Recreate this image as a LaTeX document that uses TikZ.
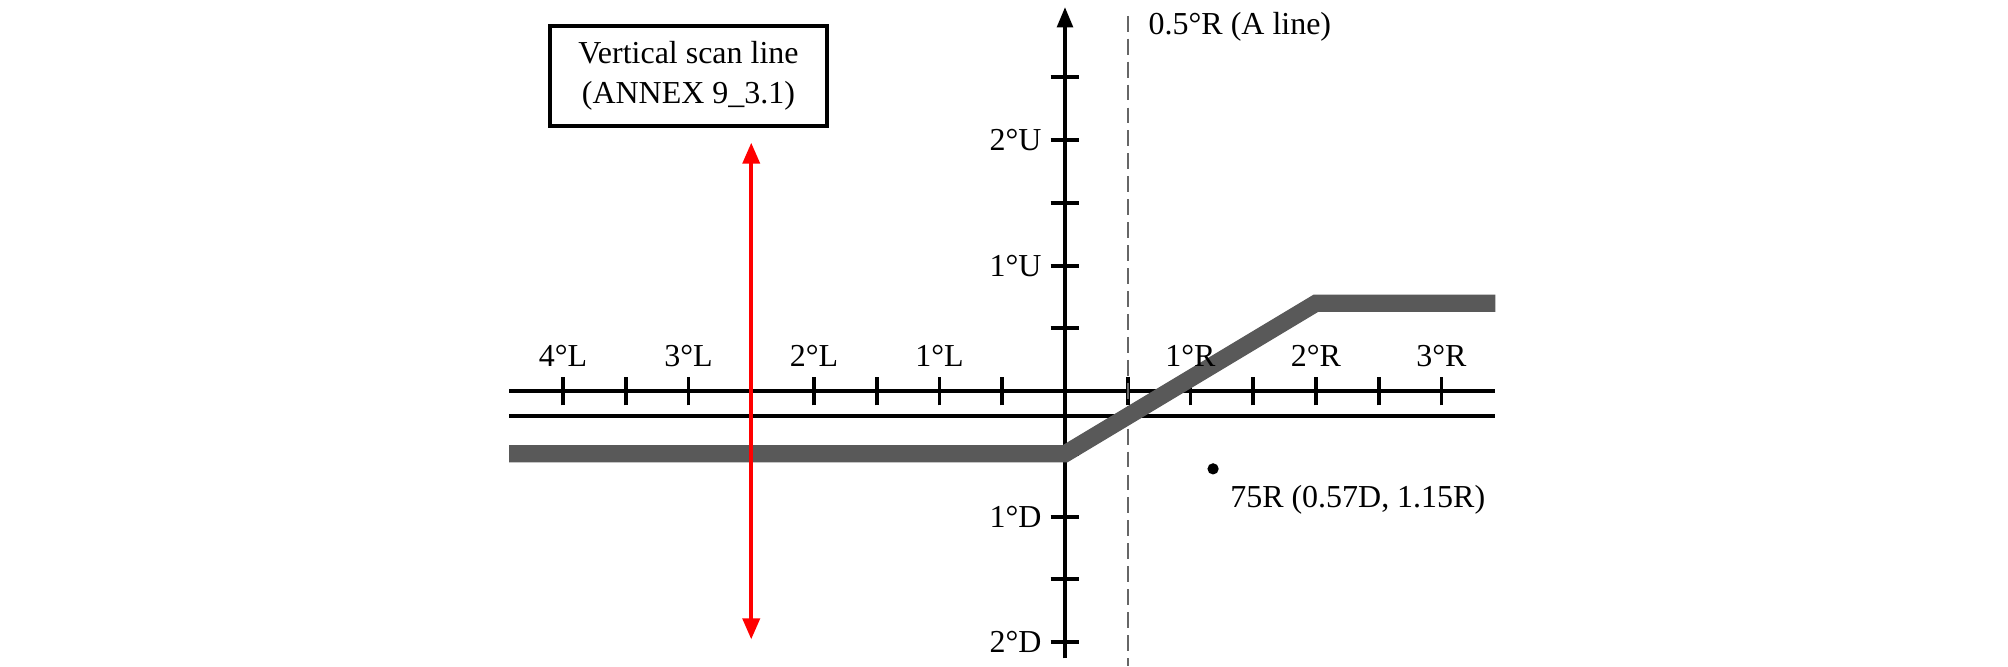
\documentclass[tikz,border=0pt]{standalone}
\usepackage{fontspec}
\setmainfont{Liberation Serif}
\usetikzlibrary{arrows.meta}
\definecolor{bandgray}{HTML}{595959}
\definecolor{dashgray}{HTML}{666666}
\definecolor{scanred}{HTML}{FF0000}
\begin{document}
\begin{tikzpicture}[
  font=\fontsize{7.25}{9}\selectfont,
  axisline/.style={line width=0.9pt, draw=black},
  tickline/.style={line width=0.9pt, draw=black},
  bandline/.style={line width=3.9pt, draw=bandgray, line join=miter},
  aline/.style={line width=0.55pt, draw=dashgray, dash pattern=on 3.6pt off 1.6pt},
  scanarrow/.style={line width=1pt, draw=scanred,
    {Triangle[length=4.8pt,width=3.8pt]}-{Triangle[length=4.8pt,width=3.8pt]}},
  lab/.style={inner sep=0pt},
  infobox/.style={draw, line width=0.9pt, minimum width=2.21cm, minimum height=0.8cm, align=center, inner sep=1pt}
]
\useasboundingbox (-8.486,-2.191) rectangle (7.514,3.116);

% horizontal lines
\coordinate (hL) at (-4.43,0);
\coordinate (hR) at (3.43,0);
\coordinate (gL) at (-4.43,-0.2);
\coordinate (gR) at (3.43,-0.2);
\draw[axisline] (hL) -- (hR);
\draw[axisline] (gL) -- (gR);
\foreach \x in {-4,-3.5,...,-0.5,0.5,1,...,3}
  \draw[tickline] (\x,-0.115) -- (\x,0.115);

% vertical axis
\coordinate (vB) at (0,-2.13);
\coordinate (vT) at (0,3.06);
\draw[axisline,-{Triangle[length=4.6pt,width=3.5pt]}] (vB) -- (vT);
\foreach \y in {-2,-1.5,...,-0.5,0.5,1,...,2.5}
  \draw[tickline] (-0.115,\y) -- (0.115,\y);

% A line
\coordinate (aT) at (0.5,2.99);
\coordinate (aB) at (0.5,-2.191);
\draw[aline] (aT) -- (aB);

% cut-off line
\coordinate (c1) at (-4.43,-0.5);
\coordinate (c2) at (0,-0.5);
\coordinate (c3) at (2,0.7);
\coordinate (c4) at (3.43,0.7);
\draw[bandline] (c1) -- (c2) -- (c3) -- (c4);

% labels on horizontal axis
\node[lab] (l4) at (-4,0.28) {4°L};
\node[lab] (l3) at (-3,0.28) {3°L};
\node[lab] (l2) at (-2,0.28) {2°L};
\node[lab] (l1) at (-1,0.28) {1°L};
\node[lab] (r1) at (1,0.28) {1°R};
\node[lab] (r2) at (2,0.28) {2°R};
\node[lab] (r3) at (3,0.28) {3°R};

% labels on vertical axis
\node[lab,anchor=east] (u2) at (-0.18,2) {2°U};
\node[lab,anchor=east] (u1) at (-0.18,1) {1°U};
\node[lab,anchor=east] (d1) at (-0.18,-1) {1°D};
\node[lab,anchor=east] (d2) at (-0.18,-2) {2°D};

\node[lab,anchor=west] (alab) at (0.66,2.9) {0.5°R (A line)};

% scan line
\coordinate (sB) at (-2.5,-1.98);
\coordinate (sT) at (-2.5,1.98);
\draw[scanarrow] (sB) -- (sT);
\node[infobox] (box) at (-3,2.51) {Vertical scan line\\(ANNEX 9\_3.1)};

% 75R point
\node[circle, fill=black, inner sep=0pt, minimum size=0.09cm] (pt) at (1.18,-0.62) {};
\node[lab,anchor=west] (ptlab) at (1.31,-0.87) {75R (0.57D, 1.15R)};
\end{tikzpicture}
\end{document}
